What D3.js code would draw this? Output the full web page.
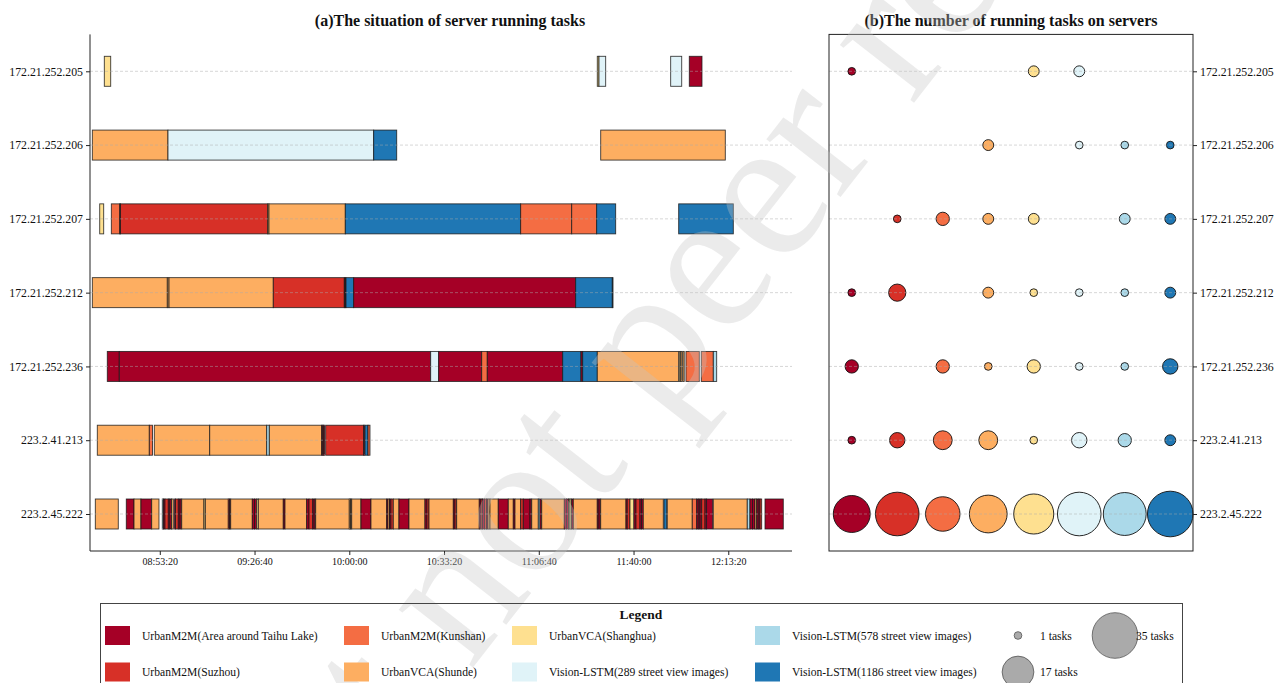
<!DOCTYPE html>
<html>
<head>
<meta charset="utf-8">
<script src="https://cdn.jsdelivr.net/npm/d3@7"></script>
<style>
  body { margin: 0; background: #fff; }
  svg { display: block; }
  text { font-family: "Liberation Serif", "Times New Roman", serif; fill: #111; }
</style>
</head>
<body>
<svg id="chart" width="1286" height="683"></svg>
<script>
// ---------- data ----------
const servers = ["172.21.252.205", "172.21.252.206", "172.21.252.207", "172.21.252.212",
                 "172.21.252.236", "223.2.41.213", "223.2.45.222"];

const taskKeys = ["Taihu", "Suzhou", "Kunshan", "Shunde", "Shanghua", "V289", "V578", "V1186"];
const taskNames = ["UrbanM2M(Area around Taihu Lake)", "UrbanM2M(Suzhou)", "UrbanM2M(Kunshan)",
                   "UrbanVCA(Shunde)", "UrbanVCA(Shanghua)", "Vision-LSTM(289 street view images)",
                   "Vision-LSTM(578 street view images)", "Vision-LSTM(1186 street view images)"];

const timeTicks = ["08:53:20", "09:26:40", "10:00:00", "10:33:20", "11:06:40", "11:40:00", "12:13:20"];
const timeWindow = ["08:28:47", "12:35:45"];

// [task, start, end] for each server
const runs205 = [
  ["Shanghua", "08:33:49", "08:36:04"],
  ["Shanghua", "11:27:15", "11:27:51"],
  ["V289", "11:27:51", "11:30:12"],
  ["V289", "11:53:04", "11:56:57"],
  ["Taihu", "11:59:37", "12:04:05"]
];
const runs206 = [
  ["Shunde", "08:29:36", "08:56:13"],
  ["V289", "08:56:13", "10:08:35"],
  ["V1186", "10:08:35", "10:16:41"],
  ["Shunde", "11:28:27", "12:12:17"]
];
const runs207 = [
  ["Shanghua", "08:32:12", "08:33:36"],
  ["Kunshan", "08:36:17", "08:39:14"],
  ["Suzhou", "08:39:14", "08:39:31"],
  ["Suzhou", "08:39:31", "09:31:18"],
  ["Shunde", "09:31:18", "09:31:45"],
  ["Shunde", "09:31:45", "09:58:36"],
  ["V1186", "09:58:36", "11:00:18"],
  ["Kunshan", "11:00:18", "11:18:15"],
  ["Kunshan", "11:18:15", "11:27:02"],
  ["V1186", "11:27:02", "11:33:43"],
  ["V1186", "11:55:53", "12:15:06"]
];
const runs212 = [
  ["Shunde", "08:29:36", "08:55:59"],
  ["Shunde", "08:55:59", "08:56:35"],
  ["Shunde", "08:56:35", "09:33:16"],
  ["Suzhou", "09:33:16", "09:58:15"],
  ["Suzhou", "09:58:15", "09:58:33"],
  ["Taihu", "09:58:33", "09:58:51"],
  ["V1186", "09:58:51", "10:01:33"],
  ["Taihu", "10:01:33", "11:19:39"],
  ["V1186", "11:19:39", "11:32:32"],
  ["V1186", "11:32:32", "11:32:47"]
];
const runs236 = [
  ["Taihu", "08:34:52", "08:39:05"],
  ["Taihu", "08:39:05", "10:28:38"],
  ["V289", "10:28:38", "10:31:27"],
  ["Taihu", "10:31:27", "10:46:35"],
  ["Kunshan", "10:46:35", "10:48:33"],
  ["Taihu", "10:48:33", "11:15:05"],
  ["V1186", "11:15:05", "11:21:31"],
  ["Taihu", "11:21:31", "11:22:07"],
  ["V1186", "11:22:07", "11:27:15"],
  ["Shunde", "11:27:15", "11:55:53"],
  ["Shanghua", "11:56:06", "11:56:35"],
  ["Shunde", "11:56:40", "11:57:07"],
  ["Shunde", "11:57:22", "11:57:50"],
  ["Kunshan", "11:58:27", "12:03:08"],
  ["Kunshan", "12:03:50", "12:08:04"],
  ["V578", "12:08:04", "12:09:15"]
];
const runs213 = [
  ["Shunde", "08:31:21", "08:49:39"],
  ["Kunshan", "08:49:39", "08:50:46"],
  ["Shunde", "08:51:24", "09:10:54"],
  ["Shunde", "09:10:54", "09:30:57"],
  ["V578", "09:30:57", "09:31:52"],
  ["Shunde", "09:31:52", "09:50:18"],
  ["Taihu", "09:50:18", "09:50:39"],
  ["Suzhou", "09:50:39", "09:51:00"],
  ["Taihu", "09:51:00", "09:51:21"],
  ["Suzhou", "09:51:42", "10:05:04"],
  ["Taihu", "10:05:04", "10:05:25"],
  ["V1186", "10:05:32", "10:06:35"],
  ["Kunshan", "10:06:35", "10:07:17"]
];
const runs222 = [
  ["Shunde", "08:30:39", "08:38:44"], ["Taihu", "08:41:33", "08:44:16"],
  ["Shunde", "08:44:16", "08:46:43"], ["Taihu", "08:46:43", "08:50:29"],
  ["Shunde", "08:50:29", "08:53:03"], ["V578", "08:54:13", "08:54:38"],
  ["Taihu", "08:54:38", "08:55:10"], ["Suzhou", "08:55:10", "08:56:20"],
  ["Taihu", "08:56:20", "08:56:51"], ["Taihu", "08:56:51", "08:57:27"],
  ["Shunde", "08:57:27", "08:58:05"], ["Taihu", "08:58:26", "08:58:52"],
  ["Suzhou", "08:58:52", "08:59:51"], ["Taihu", "08:59:51", "09:00:27"],
  ["Taihu", "09:00:27", "09:01:03"], ["Shunde", "09:01:03", "09:08:53"],
  ["Shanghua", "09:08:53", "09:09:21"], ["Shunde", "09:09:21", "09:17:26"],
  ["Suzhou", "09:17:26", "09:17:52"], ["Taihu", "09:17:52", "09:18:17"],
  ["Shunde", "09:18:17", "09:25:53"], ["Taihu", "09:25:53", "09:26:39"],
  ["Taihu", "09:26:39", "09:27:26"], ["Shanghua", "09:27:26", "09:28:00"],
  ["Shunde", "09:28:00", "09:36:47"], ["Taihu", "09:36:47", "09:37:23"],
  ["Shunde", "09:37:23", "09:45:01"], ["Taihu", "09:45:01", "09:45:50"],
  ["Suzhou", "09:45:50", "09:47:08"], ["Taihu", "09:47:08", "09:47:39"],
  ["Taihu", "09:47:39", "09:48:11"], ["Shunde", "09:48:11", "10:00:00"],
  ["Shunde", "10:00:00", "10:00:26"], ["Shunde", "10:00:26", "10:00:51"],
  ["Shunde", "10:00:51", "10:04:07"], ["Taihu", "10:04:07", "10:07:38"],
  ["Shunde", "10:07:38", "10:13:10"], ["Taihu", "10:13:10", "10:13:37"],
  ["Shunde", "10:13:37", "10:14:09"], ["Taihu", "10:14:09", "10:14:41"],
  ["Suzhou", "10:14:41", "10:15:29"], ["Shunde", "10:15:29", "10:17:29"],
  ["Taihu", "10:17:29", "10:21:00"], ["Shunde", "10:21:00", "10:26:38"],
  ["Taihu", "10:26:38", "10:27:20"], ["Suzhou", "10:27:20", "10:28:03"],
  ["Shunde", "10:28:03", "10:36:36"], ["Taihu", "10:36:36", "10:37:12"],
  ["Suzhou", "10:37:12", "10:37:47"], ["Shunde", "10:37:47", "10:45:44"],
  ["Taihu", "10:45:44", "10:46:20"], ["Suzhou", "10:46:20", "10:46:52"],
  ["Taihu", "10:46:52", "10:47:34"], ["Suzhou", "10:47:34", "10:48:16"],
  ["Taihu", "10:48:16", "10:48:48"], ["Shunde", "10:48:48", "10:49:30"],
  ["Shunde", "10:49:30", "10:52:25"], ["Taihu", "10:52:25", "10:55:56"],
  ["Shunde", "10:55:56", "10:57:42"], ["Taihu", "10:57:42", "10:58:18"],
  ["Shunde", "10:58:18", "11:00:18"], ["Suzhou", "11:00:18", "11:01:13"],
  ["Taihu", "11:01:13", "11:03:35"], ["Taihu", "11:03:35", "11:04:11"],
  ["Shunde", "11:04:11", "11:06:30"], ["V578", "11:06:30", "11:07:06"],
  ["Taihu", "11:07:06", "11:07:42"], ["Shunde", "11:07:42", "11:15:39"],
  ["Taihu", "11:15:39", "11:16:25"], ["Taihu", "11:16:25", "11:17:07"],
  ["Shanghua", "11:17:07", "11:17:39"], ["Shanghua", "11:17:39", "11:18:15"],
  ["Taihu", "11:18:15", "11:18:49"], ["Shunde", "11:18:49", "11:27:15"],
  ["Taihu", "11:27:15", "11:27:51"], ["Taihu", "11:27:51", "11:28:27"],
  ["Shunde", "11:28:27", "11:37:21"], ["Taihu", "11:37:21", "11:37:48"],
  ["Suzhou", "11:37:48", "11:38:45"], ["Shanghua", "11:38:45", "11:40:09"],
  ["Taihu", "11:40:09", "11:40:52"], ["Suzhou", "11:40:52", "11:42:16"],
  ["Taihu", "11:42:16", "11:42:48"], ["Taihu", "11:42:48", "11:43:26"],
  ["Shunde", "11:43:26", "11:50:28"], ["V1186", "11:50:43", "11:51:40"],
  ["Shunde", "11:51:53", "12:00:40"], ["Kunshan", "12:00:40", "12:02:13"],
  ["Taihu", "12:02:13", "12:02:47"], ["Taihu", "12:02:47", "12:03:23"],
  ["Taihu", "12:03:23", "12:03:59"], ["Suzhou", "12:03:59", "12:05:09"],
  ["Taihu", "12:05:09", "12:05:42"], ["Taihu", "12:05:42", "12:07:51"],
  ["Shunde", "12:08:04", "12:20:01"], ["V578", "12:20:01", "12:20:58"],
  ["Taihu", "12:20:58", "12:21:51"], ["Taihu", "12:21:51", "12:22:44"],
  ["Shunde", "12:22:44", "12:23:20"], ["Taihu", "12:23:20", "12:23:53"],
  ["Taihu", "12:23:53", "12:24:29"], ["Suzhou", "12:24:29", "12:25:05"],
  ["Taihu", "12:26:15", "12:32:41"]
];

// number of tasks of each type per server (order of taskKeys)
const tasks205 = [1, 0, 0, 0, 2, 2, 0, 0];
const tasks206 = [0, 0, 0, 2, 0, 1, 1, 1];
const tasks207 = [0, 1, 3, 2, 2, 0, 2, 2];
const tasks212 = [1, 5, 0, 2, 1, 1, 1, 2];
const tasks236 = [3, 0, 3, 1, 3, 1, 1, 4];
const tasks213 = [1, 4, 6, 6, 1, 4, 3, 2];
const tasks222 = [23, 32, 20, 24, 27, 32, 31, 35];

const sizeLegend = [1, 17, 35];

// ---------- styling ----------
const palette = ["#a50026", "#d73027", "#f46d43", "#fdae61", "#fee090", "#e0f3f8", "#abd9e9", "#1f77b4"];
const color = d3.scaleOrdinal().domain(taskKeys).range(palette);

const runsByServer = [runs205, runs206, runs207, runs212, runs236, runs213, runs222];
const countsByServer = [tasks205, tasks206, tasks207, tasks212, tasks236, tasks213, tasks222];

const toSec = s => { const [h, m, x] = s.split(":").map(Number); return h * 3600 + m * 60 + x; };

const svg = d3.select("#chart");
const panelA = { left: 90, right: 792, top: 34.4, bottom: 551 };
const panelB = { left: 829, right: 1193, top: 34.4, bottom: 551 };

const x = d3.scaleLinear().domain(timeWindow.map(toSec)).range([panelA.left, panelA.right]);
const y = d3.scalePoint().domain(servers).range([71.3, 514]);
const xb = d3.scalePoint().domain(taskKeys).range([panelB.left, panelB.right]).padding(0.5);
const r = d3.scaleSqrt().domain([0, 35]).range([0, 22.8]);
const barH = 30;

// ---------- panel (a): task timeline ----------
const gA = svg.append("g");
servers.forEach((srv, i) => {
  gA.append("g").selectAll("rect")
    .data(runsByServer[i])
    .join("rect")
    .attr("x", d => x(toSec(d[1])))
    .attr("width", d => x(toSec(d[2])) - x(toSec(d[1])))
    .attr("y", y(srv) - barH / 2)
    .attr("height", barH)
    .attr("fill", d => color(d[0]))
    .attr("stroke", "#1a1a1a")
    .attr("stroke-opacity", 0.85)
    .attr("stroke-width", 0.9);
});

gA.append("g").selectAll("line")
  .data(servers).join("line")
  .attr("x1", panelA.left).attr("x2", panelA.right)
  .attr("y1", d => y(d)).attr("y2", d => y(d))
  .attr("stroke", "#aaa").attr("stroke-opacity", 0.6)
  .attr("stroke-width", 0.8).attr("stroke-dasharray", "3,2");

const axisA = d3.axisBottom(x)
  .tickValues(timeTicks.map(toSec))
  .tickFormat((d, i) => timeTicks[i])
  .tickSize(4).tickPadding(3);
const gx = gA.append("g").attr("transform", `translate(0,${panelA.bottom})`).call(axisA);
gx.select(".domain").remove();
gx.selectAll("text").attr("font-size", 10).attr("font-family", "Liberation Serif").attr("fill", "#111");
gx.selectAll("line").attr("stroke", "#222");

const gy = gA.append("g").attr("transform", `translate(${panelA.left},0)`)
  .call(d3.axisLeft(y).tickSize(4).tickPadding(3));
gy.select(".domain").remove();
gy.selectAll("text").attr("font-size", 11.8).attr("font-family", "Liberation Serif").attr("fill", "#111");
gy.selectAll("line").attr("stroke", "#222");

gA.append("line").attr("x1", panelA.left).attr("x2", panelA.left)
  .attr("y1", panelA.top).attr("y2", panelA.bottom).attr("stroke", "#222").attr("stroke-width", 1);
gA.append("line").attr("x1", panelA.left).attr("x2", panelA.right)
  .attr("y1", panelA.bottom).attr("y2", panelA.bottom).attr("stroke", "#222").attr("stroke-width", 1);

gA.append("text").attr("x", 450).attr("y", 26).attr("text-anchor", "middle")
  .attr("font-size", 16).attr("font-weight", "bold")
  .text("(a)The situation of server running tasks");

// ---------- panel (b): task counts ----------
const gB = svg.append("g");
const cells = [];
servers.forEach((srv, i) => countsByServer[i].forEach((n, j) => {
  if (n > 0) cells.push({ srv, key: taskKeys[j], n });
}));
gB.append("g").selectAll("circle")
  .data(cells).join("circle")
  .attr("cx", d => xb(d.key))
  .attr("cy", d => y(d.srv))
  .attr("r", d => r(d.n))
  .attr("fill", d => color(d.key))
  .attr("stroke", "#111").attr("stroke-width", 0.9);

gB.append("g").selectAll("line")
  .data(servers).join("line")
  .attr("x1", panelB.left).attr("x2", panelB.right)
  .attr("y1", d => y(d)).attr("y2", d => y(d))
  .attr("stroke", "#aaa").attr("stroke-opacity", 0.6)
  .attr("stroke-width", 0.8).attr("stroke-dasharray", "3,2");

gB.append("rect").attr("x", panelB.left).attr("y", panelB.top)
  .attr("width", panelB.right - panelB.left).attr("height", panelB.bottom - panelB.top)
  .attr("fill", "none").attr("stroke", "#222").attr("stroke-width", 1);

const gyr = gB.append("g").attr("transform", `translate(${panelB.right},0)`)
  .call(d3.axisRight(y).tickSize(4).tickPadding(3));
gyr.select(".domain").remove();
gyr.selectAll("text").attr("font-size", 11.8).attr("font-family", "Liberation Serif").attr("fill", "#111");
gyr.selectAll("line").attr("stroke", "#222");

gB.append("text").attr("x", (panelB.left + panelB.right) / 2).attr("y", 26).attr("text-anchor", "middle")
  .attr("font-size", 16).attr("font-weight", "bold")
  .text("(b)The number of running tasks on servers");

// ---------- watermark ----------
svg.append("text")
  .attr("transform", "translate(703,373) rotate(-52)")
  .attr("text-anchor", "middle")
  .attr("font-family", "Liberation Sans, Arial, sans-serif")
  .attr("font-size", 205)
  .style("fill", "#c4c4c4")
  .style("fill-opacity", 0.34)
  .text("Preprint not peer reviewed");

// ---------- legend ----------
const gL = svg.append("g");
gL.append("rect").attr("x", 100.5).attr("y", 603.5).attr("width", 1082).attr("height", 100)
  .attr("fill", "none").attr("stroke", "#444").attr("stroke-width", 1);
gL.append("text").attr("x", 641).attr("y", 619).attr("text-anchor", "middle")
  .attr("font-size", 13.5).attr("font-weight", "bold").text("Legend");

const colX = [105, 344, 512, 755];
const rowY = [635.5, 672];
const items = taskKeys.map((k, i) => ({ k, name: taskNames[i], col: Math.floor(i / 2), row: i % 2 }));
const li = gL.selectAll("g.item").data(items).join("g").attr("class", "item");
li.append("rect")
  .attr("x", d => colX[d.col]).attr("y", d => rowY[d.row] - 9.5)
  .attr("width", 25).attr("height", 19)
  .attr("fill", d => color(d.k));
li.append("text")
  .attr("x", d => colX[d.col] + 37).attr("y", d => rowY[d.row] + 4)
  .attr("font-size", 11.6).text(d => d.name);

const sizePos = [{ cx: 1018, cy: rowY[0], tx: 1040 }, { cx: 1018, cy: rowY[1], tx: 1040 }, { cx: 1115, cy: rowY[0], tx: 1136 }];
const sl = gL.selectAll("g.size").data(sizeLegend).join("g").attr("class", "size");
sl.append("circle")
  .attr("cx", (d, i) => sizePos[i].cx).attr("cy", (d, i) => sizePos[i].cy)
  .attr("r", d => r(d))
  .attr("fill", "#aaa").attr("stroke", "#555").attr("stroke-width", 0.8);
sl.append("text")
  .attr("x", (d, i) => sizePos[i].tx).attr("y", (d, i) => sizePos[i].cy + 4)
  .attr("font-size", 11.6).text(d => `${d} tasks`);
</script>
</body>
</html>
